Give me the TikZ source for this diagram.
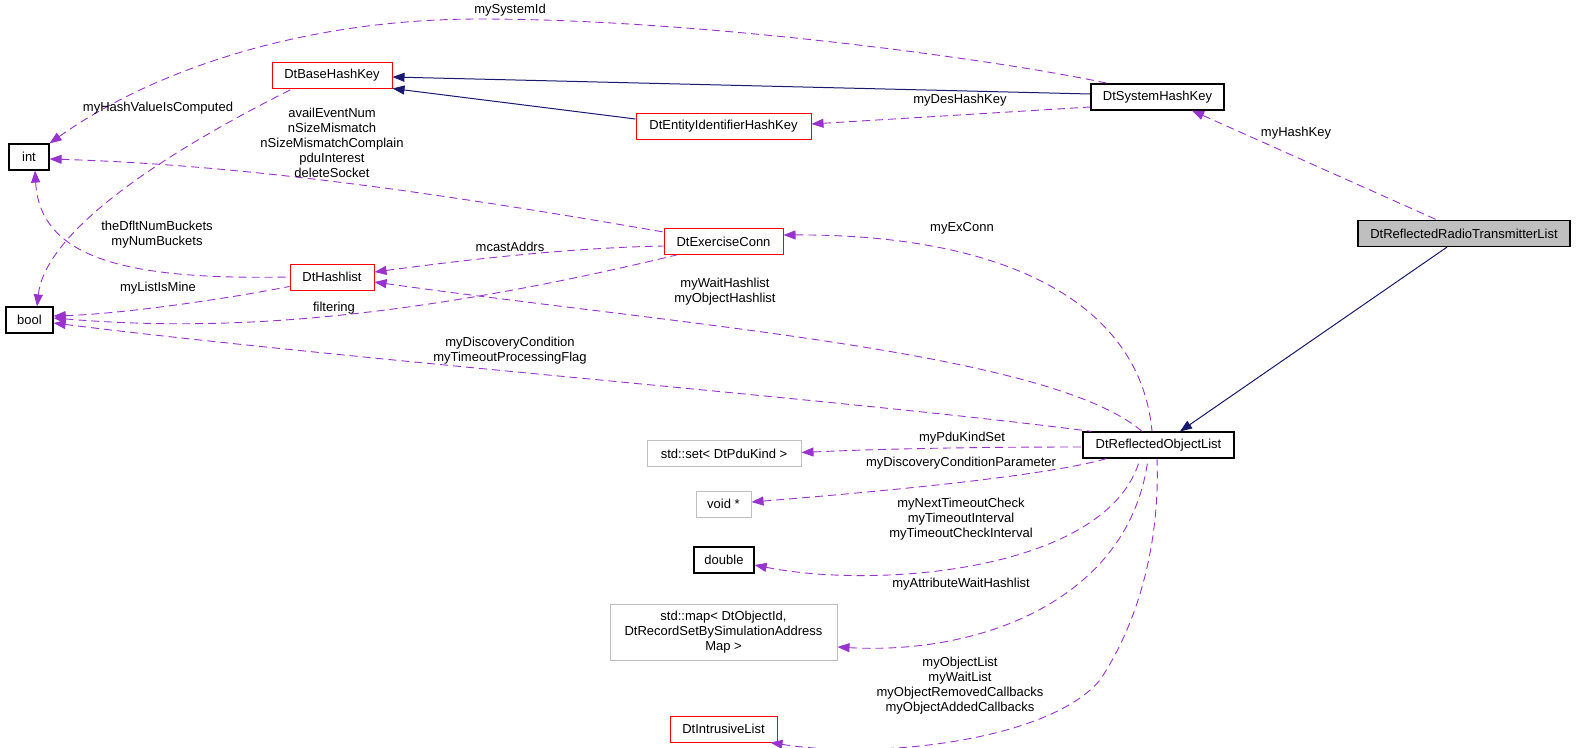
\documentclass[tikz,border=0pt]{standalone}
\usepackage{fontspec}
\setmainfont{Liberation Sans}
\usetikzlibrary{arrows.meta}
\definecolor{edgepurple}{HTML}{9A32CD}
\definecolor{inhblue}{HTML}{191970}
\definecolor{boxred}{HTML}{FF0000}
\definecolor{boxgray}{HTML}{BFBFBF}
\begin{document}
\begin{tikzpicture}[x=1pt,y=-1pt,
  font=\fontsize{13}{15}\selectfont,
  box/.style={draw, fill=white, line width=1pt, minimum height=26pt, inner sep=0pt, anchor=center},
  blackbox/.style={box, draw=black, line width=1.2pt},
  redbox/.style={box, draw=boxred},
  graybox/.style={box, draw=boxgray},
  dep/.style={draw=edgepurple, line width=0.9pt, dash pattern=on 8pt off 5pt, {Triangle[length=12pt,width=9pt]}-},
  inh/.style={draw=inhblue, line width=1pt, {Triangle[length=12pt,width=9pt]}-},
  lbl/.style={inner sep=0pt, align=center}]
\useasboundingbox (0,0) rectangle (1579,747);
\fill[white] (0,0) rectangle (1579,747);

% nodes
\node[blackbox, minimum width=40pt] (int) at (29,157) {int};
\node[blackbox, minimum width=47pt] (bool) at (29.5,320) {bool};
\node[redbox, minimum width=120pt] (base) at (332,75.5) {DtBaseHashKey};
\node[redbox, minimum width=84pt] (hash) at (332,277) {DtHashlist};
\node[redbox, minimum width=175pt] (entity) at (723.5,126.5) {DtEntityIdentifierHashKey};
\node[redbox, minimum width=119pt] (exconn) at (723.5,241.5) {DtExerciseConn};
\node[blackbox, minimum width=133pt] (sys) at (1157.5,97) {DtSystemHashKey};
\node[blackbox, fill=boxgray, minimum width=212pt] (radio) at (1464,233.5) {DtReflectedRadioTransmitterList};
\node[blackbox, minimum width=151pt] (rol) at (1158.5,445) {DtReflectedObjectList};
\node[graybox, minimum width=154pt] (set) at (724,453.5) {std::set< DtPduKind >};
\node[graybox, minimum width=55pt] (void) at (723.5,504) {void *};
\node[blackbox, minimum width=60pt] (double) at (724,560) {double};
\node[graybox, minimum width=227pt, minimum height=56pt, align=center] (map) at (723.5,632) {std::map< DtObjectId,\\ DtRecordSetBySimulationAddress\\ Map >};
\node[redbox, minimum width=107pt] (intr) at (723.5,729) {DtIntrusiveList};

% inheritance
\draw[inh] ([xshift=21.5pt]rol.north) -- ([xshift=-17pt]radio.south);
\draw[inh] ([yshift=-1.5pt]base.east) -- ([yshift=3pt]sys.west);
\draw[inh] ([yshift=0.5pt]base.south east) -- ([yshift=7.5pt]entity.west);

% usage
\draw[dep] ([xshift=34.5pt]sys.south) -- ([xshift=-27pt]radio.north);
\draw[dep] ([yshift=2.5pt]entity.east) -- ([yshift=-10pt]sys.west);
\draw[dep] (int.north east) .. controls (150,72) and (300,19) .. (480,19) .. controls (700,19) and (1000,60) .. ([xshift=-49.5pt]sys.north);
\draw[dep] ([xshift=7.5pt]bool.north) .. controls (45,235) and (150,160) .. ([xshift=-40pt]base.south);
\draw[dep] ([yshift=-2pt]int.east) .. controls (250,165) and (450,195) .. ([yshift=9.5pt]exconn.west);
\draw[dep] ([yshift=5pt]hash.east) .. controls (450,262) and (560,248) .. ([yshift=-4.5pt]exconn.west);
\draw[dep] ([yshift=2pt]bool.east) .. controls (200,330) and (377,327) .. ([xshift=13pt]exconn.south west);
\draw[dep] ([xshift=6pt]int.south) .. controls (40,260) and (130,280) .. (hash.west);
\draw[dep] ([yshift=4pt]bool.east) .. controls (120,314) and (220,300) .. ([yshift=4pt]hash.south west);
\draw[dep] ([yshift=6.5pt]exconn.east) .. controls (1000,234) and (1140,300) .. ([xshift=-6.5pt]rol.north);
\draw[dep] ([yshift=-5pt]hash.east) .. controls (680,325) and (1050,352) .. ([xshift=-16.5pt]rol.north);
\draw[dep] ([yshift=-3pt]bool.east) .. controls (350,360) and (850,400) .. ([xshift=9pt]rol.north west);
\draw[dep] ([yshift=1pt]set.east) .. controls (900,448) and (1000,447) .. ([yshift=-2pt]rol.west);
\draw[dep] ([yshift=2pt]void.east) .. controls (900,490) and (1050,475) .. ([xshift=24pt]rol.south west);
\draw[dep] ([yshift=-5pt]double.east) .. controls (880,590) and (1110,570) .. ([xshift=-18.5pt]rol.south);
\draw[dep] ([yshift=-15pt]map.east) .. controls (980,655) and (1130,600) .. ([xshift=-10.5pt]rol.south);
\draw[dep] ([xshift=-7pt]intr.south east) .. controls (880,760) and (1050,740) .. (1100,680) .. controls (1140,620) and (1160,540) .. ([xshift=-1.5pt]rol.south);

% labels
\node[lbl] (lsys) at (510,10) {mySystemId};
\node[lbl] (lhvc) at (158,108) {myHashValueIsComputed};
\node[lbl] (lavail) at (332,142.5) {availEventNum\\nSizeMismatch\\nSizeMismatchComplain\\pduInterest\\deleteSocket};
\node[lbl] (ldes) at (960,100) {myDesHashKey};
\node[lbl] (lhk) at (1296,133) {myHashKey};
\node[lbl] (lbuck) at (157,234.5) {theDfltNumBuckets\\myNumBuckets};
\node[lbl] (lmine) at (158,288) {myListIsMine};
\node[lbl] (lmc) at (510,247) {mcastAddrs};
\node[lbl] (lfilt) at (334,308) {filtering};
\node[lbl] (lex) at (962,228) {myExConn};
\node[lbl] (lwh) at (725,291.5) {myWaitHashlist\\myObjectHashlist};
\node[lbl] (ldc) at (510,350.5) {myDiscoveryCondition\\myTimeoutProcessingFlag};
\node[lbl] (lpdu) at (962,438) {myPduKindSet};
\node[lbl] (ldcp) at (961,463) {myDiscoveryConditionParameter};
\node[lbl] (lto) at (961,519.5) {myNextTimeoutCheck\\myTimeoutInterval\\myTimeoutCheckInterval};
\node[lbl] (lawh) at (961,584) {myAttributeWaitHashlist};
\node[lbl] (lol) at (960,686) {myObjectList\\myWaitList\\myObjectRemovedCallbacks\\myObjectAddedCallbacks};
\end{tikzpicture}
\end{document}
